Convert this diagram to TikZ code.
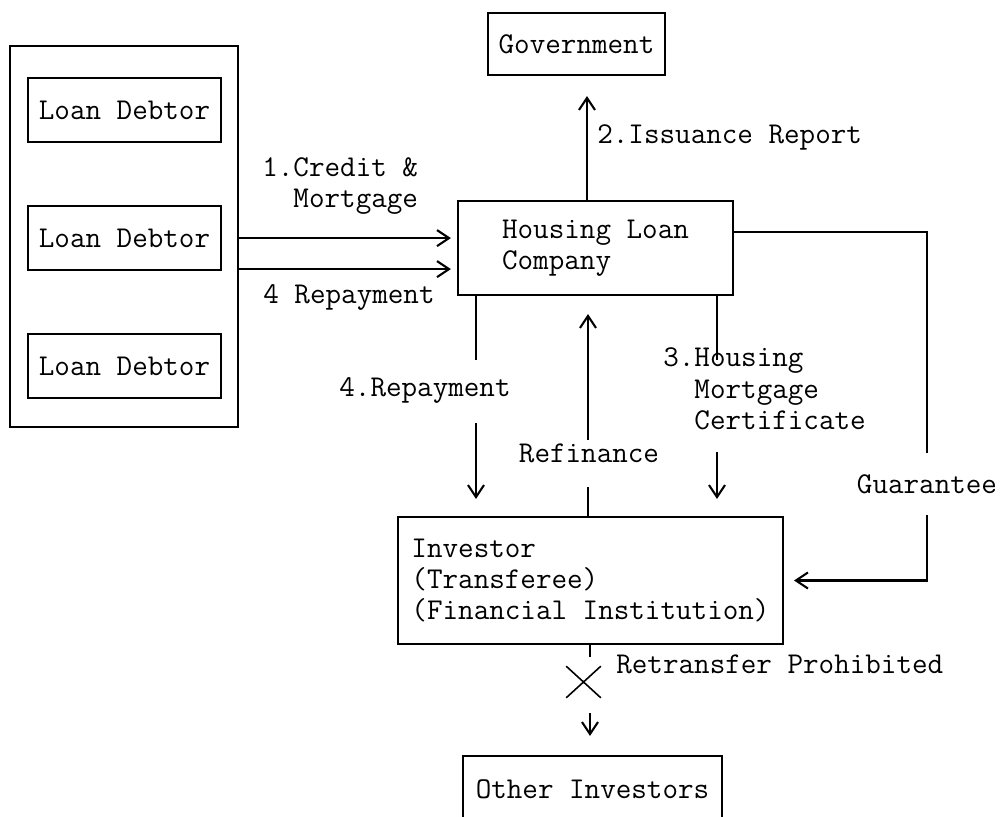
\documentclass[tikz,border=0pt]{standalone}
\usetikzlibrary{arrows.meta,positioning,shapes.misc}

\begin{document}
\begin{tikzpicture}[
    font=\ttfamily\fontsize{17.2}{17.9}\selectfont,
    box/.style={rectangle, draw, line width=1.2pt, align=left, inner sep=0pt},
    debtor/.style={box, minimum width=3.86cm, minimum height=1.28cm},
    lbl/.style={align=left, inner sep=0pt},
    line/.style={line width=1.2pt},
    arrow/.style={->, line width=1.2pt, >={Straight Barb[length=2.4mm, width=3.2mm]}},
    xmark/.style={cross out, draw, line width=0.9pt, minimum width=0.66cm, minimum height=0.6cm}
]
\useasboundingbox (0,0) rectangle (20.06,-16.34);
\clip (0,0) rectangle (20.06,-16.34);

% Loan debtors
\node[box, minimum width=4.56cm, minimum height=7.62cm] (debtors) at (2.48,-4.73) {};
\node[debtor] (d1) at (2.49,-2.2) {Loan Debtor};
\node[debtor, below=1.24cm of d1] (d2) {Loan Debtor};
\node[debtor, below=1.24cm of d2] (d3) {Loan Debtor};

% Company, government, investors
\node[box, minimum width=5.5cm, minimum height=1.88cm] (hlc) at (11.91,-4.96) {Housing Loan\\Company};
\node[box, minimum width=3.54cm, minimum height=1.24cm] (gov) at (11.53,-0.88) {Government};
\node[box, minimum width=7.7cm, minimum height=2.54cm] (inv) at (11.81,-11.61) {Investor\\(Transferee)\\(Financial Institution)};
\node[box, minimum width=5.18cm, minimum height=1.32cm] (oth) at (11.85,-15.78) {Other Investors};

% Break points of the lines
\coordinate (rp) at ([yshift=-0.62cm]d2.east);
\coordinate (up) at ([xshift=-0.17cm]hlc.north);
\coordinate (rp1) at (9.52,-7.2);
\coordinate (rp2) at (9.52,-8.46);
\coordinate (rf1) at (11.76,-8.8);
\coordinate (rf2) at (11.76,-9.74);
\coordinate (hc1) at (14.34,-7.2);
\coordinate (hc2) at (14.34,-9.04);
\coordinate (gu1) at (18.54,-9.06);
\coordinate (gu2) at (18.54,-10.3);
\coordinate (rt1) at (11.8,-13.14);
\coordinate (rt2) at (11.8,-14.26);

% Debtors to company
\draw[arrow, shorten >=0.12cm] (debtors.east |- d2) -- (hlc.west |- d2);
\draw[arrow, shorten >=0.12cm] (debtors.east |- rp) -- (hlc.west |- rp);

% Company to government
\draw[arrow, shorten >=0.4cm] (up) -- (up |- gov.south);

% Company and investor
\draw[line] (hlc.south -| rp1) -- (rp1);
\draw[arrow, shorten >=0.34cm] (rp2) -- (inv.north -| rp2);
\draw[line] (inv.north -| rf2) -- (rf2);
\draw[arrow, shorten >=0.36cm] (rf1) -- (hlc.south -| rf1);
\draw[line] (hlc.south -| hc1) -- (hc1);
\draw[arrow, shorten >=0.34cm] (hc2) -- (inv.north -| hc2);
\draw[line] ([yshift=0.32cm]hlc.east) -| (gu1);
\draw[arrow, shorten >=0.2cm] (gu2) |- (inv.east);

% Retransfer
\node[xmark] (xm) at (11.67,-13.64) {};
\draw[line] (inv.south -| rt1) -- (rt1);
\draw[arrow, shorten >=0.38cm] (rt2) -- (oth.north -| rt2);

% Labels
\node[lbl, anchor=west] at (5.24,-3.72) {1.Credit \&\\\phantom{1.}Mortgage};
\node[lbl, anchor=west] at (5.26,-5.94) {4 Repayment};
\node[lbl, anchor=west] at (11.94,-2.74) {2.Issuance Report};
\node[lbl] at (8.5,-7.8) {4.Repayment};
\node[lbl] at (11.78,-9.06) {Refinance};
\node[lbl, anchor=west] at (13.26,-7.78) {3.Housing\\\phantom{3.}Mortgage\\\phantom{3.}Certificate};
\node[lbl] at (18.54,-9.68) {Guarantee};
\node[lbl, anchor=west] at (12.32,-13.28) {Retransfer Prohibited};

\end{tikzpicture}
\end{document}
